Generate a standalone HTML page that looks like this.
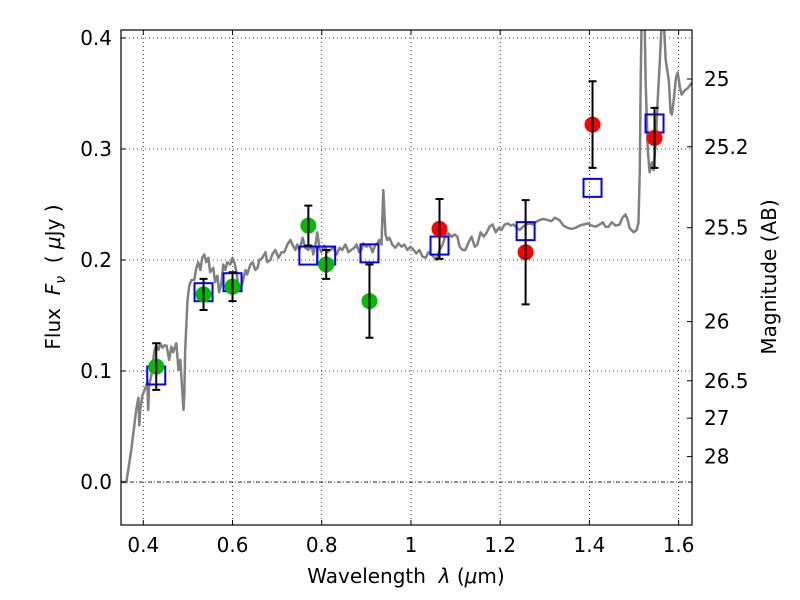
<!DOCTYPE html>
<html><head><meta charset="utf-8"><style>
html,body{margin:0;padding:0;background:#fff;}
svg{display:block;font-family:"DejaVu Sans","Liberation Sans",sans-serif;}
</style></head><body>
<svg id="chart" width="800" height="600" viewBox="0 0 800 600">
<defs><clipPath id="clip"><rect x="121" y="30" width="571" height="495"/></clipPath></defs>
<g id="grid"></g>
<g id="spec" clip-path="url(#clip)"></g>
<g id="marks"></g>
<rect x="121" y="30" width="571" height="495" fill="none" stroke="#000" stroke-width="1.2"/>
<g id="axes"></g>
<text x="406" y="583" font-size="20" text-anchor="middle">Wavelength&#160;&#160;<tspan font-style="italic">λ</tspan> (<tspan font-style="italic">μ</tspan>m)</text>
<text transform="translate(60,277) rotate(-90)" font-size="20" text-anchor="middle">Flux&#160;&#160;<tspan font-style="italic">F</tspan><tspan font-style="italic" font-size="14" dy="5">ν</tspan><tspan dy="-5">&#160;&#160;( </tspan><tspan font-style="italic">μ</tspan>Jy )</text>
<text transform="translate(776,277) rotate(-90)" font-size="20" text-anchor="middle">Magnitude (AB)</text>
</svg>
<script>
const specWl=[0.348,0.362,0.373,0.384,0.389,0.391,0.393,0.398,0.405,0.409,0.411,0.413,0.418,0.425,0.429,0.434,0.438,0.443,0.447,0.452,0.458,0.463,0.467,0.474,0.479,0.483,0.490,0.492,0.494,0.499,0.503,0.508,0.514,0.519,0.523,0.528,0.532,0.537,0.541,0.546,0.550,0.557,0.561,0.566,0.570,0.575,0.579,0.584,0.588,0.595,0.600,0.604,0.609,0.613,0.618,0.622,0.629,0.633,0.640,0.645,0.651,0.656,0.660,0.667,0.674,0.678,0.685,0.689,0.696,0.703,0.710,0.716,0.723,0.730,0.734,0.741,0.745,0.750,0.757,0.763,0.770,0.777,0.781,0.786,0.790,0.795,0.799,0.806,0.813,0.819,0.826,0.833,0.840,0.846,0.853,0.860,0.866,0.873,0.878,0.884,0.889,0.893,0.900,0.907,0.914,0.920,0.925,0.929,0.934,0.938,0.943,0.947,0.952,0.958,0.965,0.972,0.979,0.985,0.992,0.999,1.006,1.012,1.019,1.026,1.033,1.039,1.046,1.053,1.057,1.064,1.071,1.078,1.084,1.091,1.098,1.104,1.109,1.116,1.122,1.129,1.136,1.143,1.149,1.156,1.163,1.170,1.176,1.183,1.190,1.197,1.203,1.210,1.217,1.224,1.230,1.237,1.244,1.251,1.259,1.266,1.273,1.279,1.288,1.297,1.306,1.315,1.322,1.333,1.342,1.351,1.360,1.369,1.378,1.387,1.396,1.405,1.414,1.423,1.430,1.436,1.443,1.450,1.459,1.468,1.474,1.481,1.486,1.490,1.499,1.506,1.510,1.513,1.515,1.517,1.524,1.526,1.531,1.535,1.540,1.544,1.549,1.553,1.558,1.562,1.567,1.571,1.578,1.582,1.585,1.589,1.594,1.598,1.603,1.607,1.614,1.621,1.630];
const specFlux=[0,0,0.029,0.065,0.076,0.051,0.065,0.078,0.085,0.090,0.065,0.087,0.096,0.119,0.123,0.119,0.125,0.121,0.123,0.123,0.110,0.122,0.117,0.125,0.101,0.110,0.065,0.078,0.119,0.164,0.177,0.182,0.182,0.193,0.198,0.191,0.202,0.205,0.198,0.202,0.189,0.193,0.180,0.186,0.171,0.179,0.196,0.191,0.198,0.196,0.202,0.198,0.189,0.177,0.174,0.179,0.191,0.187,0.196,0.198,0.191,0.193,0.200,0.202,0.207,0.198,0.200,0.205,0.209,0.202,0.207,0.207,0.214,0.218,0.214,0.209,0.214,0.209,0.220,0.211,0.209,0.213,0.205,0.214,0.225,0.211,0.207,0.213,0.207,0.209,0.211,0.205,0.211,0.209,0.214,0.207,0.209,0.211,0.214,0.207,0.209,0.215,0.212,0.214,0.207,0.214,0.215,0.218,0.214,0.263,0.223,0.218,0.220,0.214,0.211,0.215,0.212,0.214,0.209,0.212,0.209,0.206,0.209,0.203,0.202,0.207,0.205,0.202,0.200,0.209,0.214,0.223,0.224,0.221,0.223,0.221,0.212,0.209,0.209,0.216,0.221,0.212,0.214,0.225,0.221,0.225,0.230,0.232,0.225,0.229,0.227,0.232,0.233,0.231,0.232,0.229,0.227,0.230,0.232,0.233,0.232,0.234,0.236,0.237,0.236,0.235,0.238,0.236,0.231,0.229,0.228,0.229,0.231,0.232,0.233,0.231,0.230,0.232,0.234,0.230,0.230,0.234,0.231,0.232,0.238,0.241,0.236,0.229,0.225,0.227,0.234,0.281,0.362,0.414,0.414,0.362,0.299,0.279,0.288,0.281,0.308,0.344,0.380,0.414,0.414,0.380,0.362,0.333,0.331,0.344,0.364,0.369,0.355,0.349,0.353,0.355,0.360];
const obsWl=[0.429,0.535,0.600,0.770,0.810,0.907,1.064,1.257,1.407,1.546];
const obsFlux=[0.104,0.169,0.176,0.231,0.196,0.163,0.228,0.207,0.322,0.310];
const obsErr=[0.021,0.014,0.013,0.018,0.013,0.033,0.027,0.047,0.039,0.027];
const obsColor=["green","green","green","green","green","green","red","red","red","red"];
const modelFlux=[0.096,0.171,0.180,0.204,0.204,0.206,0.213,0.226,0.265,0.323];
const xTicks=[0.4,0.6,0.8,1.0,1.2,1.4,1.6];
const xTickLabels=["0.4","0.6","0.8","1","1.2","1.4","1.6"];
const yTicks=[0.0,0.1,0.2,0.3,0.4];
const yTickLabels=["0.0","0.1","0.2","0.3","0.4"];
const magTicks=[25,25.2,25.5,26,26.5,27,28];
const magTickLabels=["25","25.2","25.5","26","26.5","27","28"];

const X0=121,X1=692,Y0=30,Y1=525,xmin=0.35,xmax=1.63,ymin=-0.0387,ymax=0.4072;
const sx=v=>X0+(v-xmin)/(xmax-xmin)*(X1-X0);
const sy=v=>Y1-(v-ymin)/(ymax-ymin)*(Y1-Y0);
const NS="http://www.w3.org/2000/svg";
function mk(tag,attrs,parent){const e=document.createElementNS(NS,tag);for(const k in attrs)e.setAttribute(k,attrs[k]);parent.appendChild(e);return e;}
const grid=document.getElementById('grid'),axes=document.getElementById('axes'),spec=document.getElementById('spec'),marks=document.getElementById('marks');

xTicks.forEach((t,i)=>{const x=sx(t);
 const g=mk('line',{x1:x,x2:x,y1:Y0,y2:Y1,stroke:'#000','stroke-width':0.8,'stroke-dasharray':'1,3'},grid);
 
 
 mk('line',{x1:x,x2:x,y1:Y1,y2:Y1-5,stroke:'#000'},axes);
 mk('line',{x1:x,x2:x,y1:Y0,y2:Y0+5,stroke:'#000'},axes);
 const tx=mk('text',{x:x,y:Y1+27,'font-size':20,'text-anchor':'middle'},axes);tx.textContent=xTickLabels[i];
 
 
});
yTicks.forEach((t,i)=>{const y=sy(t);
 const g=mk('line',{x1:X0,x2:X1,y1:y,y2:y,stroke:'#000','stroke-width':0.8,'stroke-dasharray':t===0?'4,2,1,2':'1,3'},grid);
 
 
 mk('line',{x1:X0,x2:X0+5,y1:y,y2:y,stroke:'#000'},axes);
 const tx=mk('text',{x:X0-9,y:y+7,'font-size':20,'text-anchor':'end'},axes);tx.textContent=yTickLabels[i];
 
 
});
magTicks.forEach((m,i)=>{const f=Math.pow(10,(23.9-m)/2.5);const y=sy(f);
 mk('line',{x1:X1,x2:X1-5,y1:y,y2:y,stroke:'#000'},axes);
 const tx=mk('text',{x:X1+12,y:y+7,'font-size':20,'text-anchor':'start'},axes);tx.textContent=magTickLabels[i];
 
 
});
const pts=specWl.map((w,i)=>sx(w).toFixed(1)+','+sy(specFlux[i]).toFixed(1)).join(' ');
const pl=mk('polyline',{points:pts,fill:'none',stroke:'#808080','stroke-width':2.5,'stroke-linejoin':'round'},spec);



obsWl.forEach((w,i)=>{const x=sx(w);
 const sq=mk('rect',{x:x-9,y:sy(modelFlux[i])-9,width:18,height:18,fill:'none',stroke:'#0000ff','stroke-width':2},marks);
 
 
});
obsWl.forEach((w,i)=>{const x=sx(w),yt=sy(obsFlux[i]+obsErr[i]),yb=sy(obsFlux[i]-obsErr[i]);
 const c=mk('circle',{cx:x,cy:sy(obsFlux[i]),r:8,fill:obsColor[i]==='green'?'#00bb00':'#ff0000'},marks);
 
 
 const e=mk('path',{d:`M${x},${yt}V${yb}M${x-4},${yt}H${x+4}M${x-4},${yb}H${x+4}`,stroke:'#000','stroke-width':2,fill:'none'},marks);
 
 
});
</script>
</body></html>
